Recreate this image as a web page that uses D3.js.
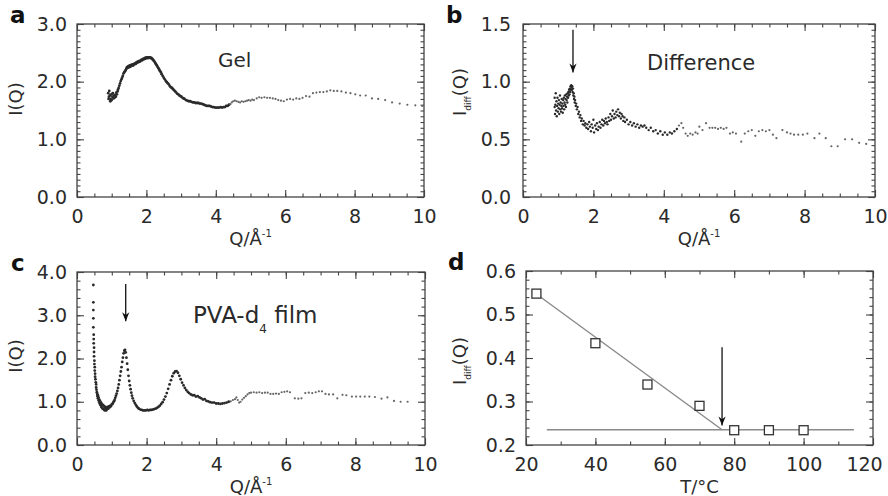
<!DOCTYPE html>
<html>
<head>
<meta charset="utf-8">
<script src="https://cdn.jsdelivr.net/npm/d3@7"></script>
<style>
  body { margin: 0; background: #fff; }
  svg { display: block; }
  text { font-family: "DejaVu Sans", sans-serif; fill: #2a2a2a; }
</style>
</head>
<body>
<div id="chart"></div>
<script>
const WIDTH = 888, HEIGHT = 496

// panel a: gel, I(Q) vs Q
const gelPoints = [
  [0.90,1.80],[0.91,1.70],[0.92,1.74],[0.93,1.84],[0.95,1.76],[0.96,1.66],[0.97,1.70],[0.99,1.78],[1.00,1.68],[1.02,1.74],
  [1.03,1.80],[1.05,1.71],[1.07,1.76],[1.08,1.72],[1.10,1.77],[1.12,1.74],[1.13,1.81],[1.15,1.78],[1.17,1.83],[1.18,1.86],
  [1.20,1.89],[1.22,1.93],[1.24,1.97],[1.26,2.01],[1.28,2.04],[1.30,2.07],[1.32,2.10],[1.34,2.14],[1.36,2.16],[1.38,2.18],
  [1.40,2.20],[1.42,2.22],[1.44,2.25],[1.46,2.24],[1.48,2.27],[1.50,2.25],[1.52,2.28],[1.54,2.26],[1.56,2.29],[1.58,2.28],
  [1.60,2.30],[1.62,2.28],[1.64,2.31],[1.66,2.30],[1.68,2.32],[1.70,2.31],[1.72,2.34],[1.74,2.33],[1.76,2.35],[1.78,2.34],
  [1.80,2.36],[1.82,2.35],[1.84,2.37],[1.86,2.38],[1.88,2.37],[1.90,2.39],[1.92,2.40],[1.94,2.39],[1.96,2.41],[1.98,2.40],
  [2.00,2.42],[2.02,2.41],[2.04,2.42],[2.06,2.41],[2.08,2.42],[2.10,2.42],[2.12,2.41],[2.14,2.41],[2.16,2.40],[2.18,2.39],
  [2.20,2.37],[2.22,2.36],[2.24,2.34],[2.26,2.32],[2.28,2.30],[2.30,2.28],[2.32,2.26],[2.34,2.24],[2.36,2.22],[2.38,2.20],
  [2.40,2.18],[2.42,2.16],[2.44,2.13],[2.47,2.10],[2.50,2.07],[2.53,2.04],[2.56,2.01],[2.59,1.99],[2.62,1.97],[2.65,1.95],
  [2.68,1.92],[2.71,1.90],[2.74,1.89],[2.77,1.87],[2.80,1.85],[2.83,1.83],[2.86,1.81],[2.89,1.79],[2.92,1.78],[2.95,1.76],
  [2.98,1.75],[3.01,1.74],[3.04,1.72],[3.07,1.71],[3.10,1.70],[3.14,1.68],[3.18,1.67],[3.22,1.66],[3.26,1.66],[3.30,1.65],
  [3.34,1.64],[3.38,1.64],[3.42,1.63],[3.46,1.63],[3.50,1.63],[3.54,1.62],[3.58,1.62],[3.62,1.61],[3.66,1.60],[3.70,1.59],
  [3.74,1.58],[3.78,1.58],[3.82,1.58],[3.86,1.57],[3.90,1.56],[3.94,1.56],[3.98,1.55],[4.02,1.55],[4.06,1.55],[4.10,1.55],
  [4.14,1.56],[4.18,1.55],[4.22,1.56],[4.26,1.56],[4.30,1.58],[4.34,1.58],[4.38,1.60],[4.42,1.61],[4.46,1.64],[4.50,1.66],
  [4.55,1.67],[4.60,1.66],[4.65,1.65],[4.70,1.64],[4.75,1.66],[4.80,1.65],[4.85,1.66],[4.90,1.67],[4.95,1.68],[5.00,1.67],
  [5.05,1.69],[5.10,1.68],[5.18,1.71],[5.25,1.73],[5.32,1.72],[5.40,1.73],[5.48,1.72],[5.56,1.72],[5.64,1.71],[5.72,1.70],
  [5.80,1.68],[5.88,1.67],[5.96,1.66],[6.05,1.69],[6.14,1.70],[6.23,1.69],[6.32,1.71],[6.41,1.70],[6.50,1.72],[6.60,1.75],
  [6.70,1.74],[6.80,1.80],[6.90,1.81],[7.00,1.82],[7.10,1.82],[7.20,1.83],[7.30,1.85],[7.40,1.84],[7.50,1.84],[7.62,1.83],
  [7.75,1.81],[7.88,1.80],[8.02,1.78],[8.16,1.76],[8.32,1.76],[8.50,1.71],[8.68,1.70],[8.88,1.68],[9.08,1.64],[9.30,1.62],
  [9.52,1.60],[9.75,1.59],[9.95,1.58]
]

// panel b: difference, Idiff(Q) vs Q
const diffPoints = [
  [0.90,0.78],[0.90,0.86],[0.91,0.72],[0.92,0.80],[0.93,0.90],[0.94,0.75],[0.95,0.83],[0.96,0.70],[0.97,0.79],[0.98,0.86],
  [0.99,0.74],[1.00,0.81],[1.01,0.77],[1.02,0.84],[1.03,0.72],[1.04,0.80],[1.05,0.88],[1.06,0.76],[1.07,0.82],[1.08,0.74],
  [1.09,0.79],[1.10,0.85],[1.11,0.77],[1.12,0.81],[1.13,0.73],[1.14,0.84],[1.15,0.79],[1.16,0.86],[1.17,0.76],[1.18,0.82],
  [1.19,0.88],[1.20,0.80],[1.21,0.85],[1.22,0.78],[1.23,0.89],[1.24,0.84],[1.25,0.87],[1.26,0.82],[1.27,0.90],[1.28,0.86],
  [1.29,0.91],[1.30,0.88],[1.31,0.93],[1.32,0.89],[1.33,0.94],[1.34,0.91],[1.35,0.96],[1.36,0.93],[1.37,0.97],[1.38,0.95],
  [1.39,0.93],[1.40,0.96],[1.41,0.91],[1.42,0.94],[1.43,0.88],[1.44,0.90],[1.45,0.85],[1.46,0.87],[1.47,0.82],[1.48,0.84],
  [1.50,0.79],[1.51,0.81],[1.53,0.76],[1.55,0.78],[1.57,0.72],[1.59,0.74],[1.61,0.69],[1.63,0.71],[1.65,0.66],[1.67,0.68],
  [1.70,0.63],[1.72,0.66],[1.75,0.62],[1.77,0.64],[1.80,0.60],[1.83,0.63],[1.85,0.59],[1.88,0.65],[1.90,0.61],[1.93,0.57],
  [1.95,0.63],[1.98,0.60],[2.00,0.67],[2.02,0.56],[2.05,0.62],[2.08,0.59],[2.10,0.64],[2.13,0.58],[2.15,0.61],[2.18,0.65],
  [2.20,0.60],[2.23,0.63],[2.25,0.67],[2.28,0.62],[2.30,0.66],[2.33,0.64],[2.35,0.68],[2.38,0.65],[2.40,0.63],[2.43,0.69],
  [2.45,0.66],[2.48,0.72],[2.50,0.67],[2.53,0.70],[2.55,0.75],[2.58,0.68],[2.60,0.72],[2.63,0.69],[2.65,0.74],[2.68,0.71],
  [2.70,0.76],[2.73,0.70],[2.75,0.73],[2.78,0.68],[2.80,0.72],[2.83,0.70],[2.85,0.66],[2.88,0.69],[2.90,0.65],[2.95,0.67],
  [3.00,0.63],[3.05,0.65],[3.10,0.62],[3.15,0.64],[3.20,0.61],[3.25,0.63],[3.30,0.60],[3.35,0.62],[3.40,0.61],[3.45,0.62],
  [3.50,0.60],[3.57,0.58],[3.63,0.60],[3.70,0.57],[3.77,0.58],[3.83,0.55],[3.90,0.57],[3.97,0.54],[4.03,0.56],[4.10,0.54],
  [4.17,0.56],[4.23,0.55],[4.30,0.57],[4.37,0.59],[4.43,0.62],[4.50,0.64],[4.55,0.60],[4.62,0.55],[4.68,0.53],[4.75,0.55],
  [4.82,0.54],[4.90,0.56],[4.96,0.55],[5.01,0.61],[5.10,0.58],[5.20,0.64],[5.30,0.60],[5.38,0.60],[5.46,0.60],[5.54,0.59],
  [5.62,0.60],[5.70,0.59],[5.78,0.60],[5.88,0.55],[5.96,0.56],[6.05,0.55],[6.20,0.48],[6.30,0.55],[6.40,0.57],[6.50,0.58],
  [6.60,0.53],[6.70,0.57],[6.80,0.58],[6.90,0.57],[7.00,0.58],[7.10,0.54],[7.20,0.51],[7.37,0.58],[7.50,0.56],[7.60,0.55],
  [7.70,0.54],[7.82,0.54],[7.95,0.54],[8.08,0.55],[8.28,0.51],[8.42,0.55],[8.60,0.51],[8.76,0.44],[8.94,0.44],[9.15,0.50],
  [9.35,0.50],[9.55,0.47],[9.75,0.46]
]

// panel c: PVA-d4 film, I(Q) vs Q
const filmPoints = [
  [0.47,3.70],[0.47,3.30],[0.47,3.12],[0.47,2.93],[0.47,2.72],[0.48,2.55],[0.48,2.45],[0.48,2.35],[0.49,2.25],[0.49,2.15],
  [0.49,2.05],[0.50,1.95],[0.50,1.87],[0.51,1.80],[0.51,1.72],[0.52,1.65],[0.52,1.58],[0.53,1.52],[0.54,1.45],[0.55,1.40],
  [0.55,1.33],[0.56,1.28],[0.57,1.22],[0.58,1.18],[0.59,1.13],[0.60,1.08],[0.60,1.15],[0.62,1.03],[0.62,1.10],[0.64,0.98],
  [0.64,1.05],[0.66,0.95],[0.66,1.02],[0.68,0.92],[0.68,0.99],[0.70,0.88],[0.70,0.96],[0.72,0.86],[0.72,0.94],[0.74,0.84],
  [0.75,0.92],[0.77,0.82],[0.78,0.90],[0.80,0.80],[0.80,0.88],[0.82,0.84],[0.84,0.80],[0.85,0.87],[0.87,0.83],[0.88,0.88],
  [0.90,0.84],[0.92,0.89],[0.94,0.87],[0.96,0.91],[0.98,0.90],[1.00,0.94],[1.02,0.95],[1.04,0.98],[1.06,1.01],[1.08,1.04],
  [1.10,1.09],[1.12,1.14],[1.14,1.19],[1.16,1.25],[1.18,1.32],[1.20,1.40],[1.22,1.50],[1.24,1.60],[1.26,1.70],[1.28,1.80],
  [1.30,1.92],[1.32,2.02],[1.34,2.12],[1.36,2.18],[1.38,2.20],[1.40,2.14],[1.42,2.02],[1.44,1.88],[1.46,1.74],[1.48,1.60],
  [1.50,1.48],[1.52,1.38],[1.54,1.29],[1.56,1.21],[1.58,1.14],[1.60,1.08],[1.63,1.02],[1.66,0.97],[1.69,0.93],[1.72,0.89],
  [1.75,0.86],[1.78,0.84],[1.82,0.82],[1.86,0.81],[1.90,0.80],[1.94,0.80],[1.98,0.80],[2.02,0.81],[2.06,0.80],[2.10,0.81],
  [2.14,0.81],[2.18,0.82],[2.22,0.83],[2.26,0.84],[2.30,0.86],[2.34,0.88],[2.38,0.91],[2.42,0.95],[2.46,0.99],[2.50,1.05],
  [2.54,1.12],[2.58,1.20],[2.62,1.30],[2.66,1.40],[2.70,1.50],[2.74,1.59],[2.78,1.66],[2.82,1.70],[2.86,1.71],[2.90,1.67],
  [2.94,1.60],[2.98,1.52],[3.02,1.44],[3.06,1.38],[3.10,1.32],[3.14,1.27],[3.18,1.23],[3.22,1.20],[3.27,1.17],[3.32,1.15],
  [3.37,1.15],[3.42,1.12],[3.47,1.13],[3.52,1.10],[3.57,1.08],[3.62,1.05],[3.67,1.06],[3.72,1.02],[3.77,1.01],[3.82,0.99],
  [3.88,0.98],[3.94,0.98],[4.00,0.96],[4.06,0.96],[4.12,0.95],[4.18,0.96],[4.24,0.97],[4.30,0.98],[4.36,1.00],[4.42,1.01],
  [4.48,1.04],[4.54,1.06],[4.58,1.10],[4.62,1.04],[4.66,0.98],[4.70,1.00],[4.75,1.05],[4.80,1.09],[4.85,1.13],[4.90,1.17],
  [4.95,1.20],[5.00,1.21],[5.08,1.22],[5.16,1.21],[5.24,1.22],[5.32,1.20],[5.40,1.21],[5.48,1.21],[5.56,1.18],[5.64,1.18],
  [5.72,1.19],[5.80,1.18],[5.88,1.22],[5.96,1.23],[6.04,1.24],[6.12,1.22],[6.26,1.08],[6.36,1.07],[6.45,1.08],[6.56,1.20],
  [6.66,1.21],[6.76,1.20],[6.86,1.22],[6.95,1.24],[7.04,1.24],[7.14,1.18],[7.24,1.17],[7.36,1.17],[7.48,1.08],[7.63,1.16],
  [7.74,1.15],[7.90,1.12],[8.02,1.12],[8.14,1.12],[8.27,1.12],[8.40,1.12],[8.56,1.11],[8.75,1.07],[8.92,1.10],[9.11,1.02],
  [9.30,1.00],[9.50,1.00]
]

// panel d: Idiff at peak vs temperature
const tempC = [23, 40, 55, 70, 80, 90, 100]
const idiffPeak = [0.548, 0.434, 0.339, 0.290, 0.234, 0.234, 0.234]
const slopeFit = [[22, 0.553], [76.5, 0.235]]
const flatFit = [[26, 0.235], [114.5, 0.235]]

// arrows: [x, yStart, yEnd]
const arrowB = [1.42, 1.45, 1.08]
const arrowC = [1.40, 3.72, 2.86]
const arrowD = [76.5, 0.425, 0.245]

const svg = d3.select("#chart").append("svg")
  .attr("width", WIDTH).attr("height", HEIGHT)

svg.append("defs").append("marker")
  .attr("id", "head")
  .attr("viewBox", "0 0 10 10")
  .attr("refX", 10).attr("refY", 5)
  .attr("markerWidth", 9).attr("markerHeight", 9)
  .attr("markerUnits", "userSpaceOnUse")
  .attr("orient", "auto")
  .append("path").attr("d", "M0,1 L10,5 L0,9 L3,5 Z").attr("fill", "#111")

function drawPanel(p) {
  const g = svg.append("g").attr("transform", `translate(${p.left}, ${p.top})`)
  const x = d3.scaleLinear().domain(p.xDomain).range([0, p.w])
  const y = d3.scaleLinear().domain(p.yDomain).range([p.h, 0])

  const xMajor = d3.range(p.xDomain[0], p.xDomain[1] + 1e-9, p.xStep)
  const xMinor = d3.range(p.xDomain[0], p.xDomain[1] + 1e-9, p.xStep / p.xSub)
  const yMajor = d3.range(0, Math.round((p.yDomain[1] - p.yDomain[0]) / p.yStep) + 1).map(i => +(p.yDomain[0] + i * p.yStep).toFixed(3))
  const yMinor = d3.range(0, Math.round((p.yDomain[1] - p.yDomain[0]) / p.yStep * p.ySub) + 1).map(i => p.yDomain[0] + i * p.yStep / p.ySub)

  const makers = [d3.axisBottom, d3.axisTop, d3.axisLeft, d3.axisRight]
  const spots = [`translate(0, ${p.h})`, "translate(0, 0)", "translate(0, 0)", `translate(${p.w}, 0)`]
  makers.forEach((mk, i) => {
    const isX = i < 2
    const sc = isX ? x : y
    const labels = i === 0 || i === 2
    // minor ticks
    g.append("g").attr("transform", spots[i])
      .call(mk(sc).tickValues(isX ? xMinor : yMinor).tickSize(-3.5).tickFormat(""))
      .call(s => s.select(".domain").remove())
      .selectAll("line").attr("stroke", "#444").attr("stroke-width", 1.1)
    // major ticks
    const a = g.append("g").attr("transform", spots[i])
      .call(mk(sc).tickValues(isX ? xMajor : yMajor).tickSize(-7).tickPadding(isX ? 13 : p.yPad)
        .tickFormat(labels ? (isX ? d3.format("d") : d3.format(".1f")) : ""))
    a.select(".domain").remove()
    a.selectAll("line").attr("stroke", "#444").attr("stroke-width", 1.1)
    a.selectAll("text").attr("font-size", 19).attr("fill", "#2e2e2e")
      .attr("font-family", "DejaVu Sans, sans-serif")
    if (i === 0 && p.lastLabelShift) {
      a.selectAll("text").filter(d => d === xMajor[xMajor.length - 1]).attr("dx", p.lastLabelShift)
    }
  })

  g.append("rect").attr("width", p.w).attr("height", p.h)
    .attr("fill", "none").attr("stroke", "#444").attr("stroke-width", 1.3)

  if (p.points) {
    g.append("g").selectAll("circle").data(p.points).join("circle")
      .attr("cx", d => x(d[0])).attr("cy", d => y(d[1]))
      .attr("r", d => d[0] > 4.4 ? 1.1 : p.dotR)
      .attr("fill", d => d[0] > 4.4 ? "#666" : "#2a2a2a")
  }

  if (p.arrow) {
    g.append("line")
      .attr("x1", x(p.arrow[0])).attr("x2", x(p.arrow[0]))
      .attr("y1", y(p.arrow[1])).attr("y2", y(p.arrow[2]))
      .attr("stroke", "#111").attr("stroke-width", 1.3)
      .attr("marker-end", "url(#head)")
  }

  // panel letter
  svg.append("text").attr("x", p.letterX).attr("y", p.top - 1)
    .attr("font-family", "Liberation Sans, Arial, sans-serif")
    .attr("font-weight", "bold").attr("font-size", 23)
    .style("fill", "#111").text(p.letter)

  // x title
  const xt = svg.append("text")
    .attr("x", p.left + p.w / 2).attr("y", p.top + p.h + 48)
    .attr("text-anchor", "middle").attr("font-size", 18)
  if (p.xTitle === "Q") {
    xt.append("tspan").text("Q/Å")
    xt.append("tspan").attr("font-size", 10).attr("dy", -8).text("-1")
  } else {
    xt.text("T/°C")
  }

  // y title
  const yt = svg.append("text")
    .attr("transform", `translate(${p.yTitleX}, ${p.yTitleY}) rotate(-90)`)
    .attr("text-anchor", "middle").attr("font-size", 18)
  if (p.yTitle === "diff") {
    yt.append("tspan").text("I")
    yt.append("tspan").attr("font-size", 9).attr("dy", 5).text("diff")
    yt.append("tspan").attr("dy", -5).text("(Q)")
  } else {
    yt.text("I(Q)")
  }

  return { g, x, y }
}

const pa = drawPanel({
  left: 77, top: 24, w: 347, h: 173, xDomain: [0, 10], yDomain: [0, 3],
  xStep: 2, xSub: 4, yStep: 1, ySub: 10, yPad: 10, points: gelPoints, dotR: 1.4,
  letter: "a", letterX: 10, xTitle: "Q", yTitle: "I", yTitleX: 22, yTitleY: 99
})
pa.g.append("text").attr("x", 141).attr("y", 43).attr("font-size", 20).text("Gel")

const pb = drawPanel({
  left: 523, top: 24, w: 352, h: 173, xDomain: [0, 10], yDomain: [0, 1.5],
  xStep: 2, xSub: 4, yStep: 0.5, ySub: 10, yPad: 12, points: diffPoints, dotR: 1.2,
  arrow: arrowB, letter: "b", letterX: 446, xTitle: "Q", yTitle: "diff", yTitleX: 466, yTitleY: 92
})
pb.g.append("text").attr("x", 124).attr("y", 46).attr("font-size", 21).text("Difference")

const pc = drawPanel({
  left: 77, top: 272, w: 348, h: 173, xDomain: [0, 10], yDomain: [0, 4],
  xStep: 2, xSub: 4, yStep: 1, ySub: 5, yPad: 10, points: filmPoints, dotR: 1.4,
  arrow: arrowC, letter: "c", letterX: 11, xTitle: "Q", yTitle: "I", yTitleX: 22, yTitleY: 356
})
const ft = pc.g.append("text").attr("x", 116).attr("y", 51).attr("font-size", 23)
ft.append("tspan").text("PVA-d")
ft.append("tspan").attr("font-size", 12).attr("dy", 10).text("4")
ft.append("tspan").attr("dy", -10).text(" film")

const pd = drawPanel({
  left: 526, top: 271, w: 347, h: 174, xDomain: [20, 120], yDomain: [0.2, 0.6],
  xStep: 20, xSub: 2, yStep: 0.1, ySub: 5, yPad: 10, arrow: arrowD, lastLabelShift: -9,
  letter: "d", letterX: 448, xTitle: "T", yTitle: "diff", yTitleX: 466, yTitleY: 361
})
const line = d3.line().x(d => pd.x(d[0])).y(d => pd.y(d[1]))
;[slopeFit, flatFit].forEach(f => {
  pd.g.append("path").attr("d", line(f))
    .attr("fill", "none").attr("stroke", "#8a8a8a").attr("stroke-width", 1.4)
})
pd.g.selectAll("rect.pt").data(tempC).join("rect").attr("class", "pt")
  .attr("x", (d) => pd.x(d) - 4.5).attr("y", (d, i) => pd.y(idiffPeak[i]) - 4.5)
  .attr("width", 9).attr("height", 9)
  .attr("fill", "#fff").attr("stroke", "#333").attr("stroke-width", 1.3)
</script>
</body>
</html>
